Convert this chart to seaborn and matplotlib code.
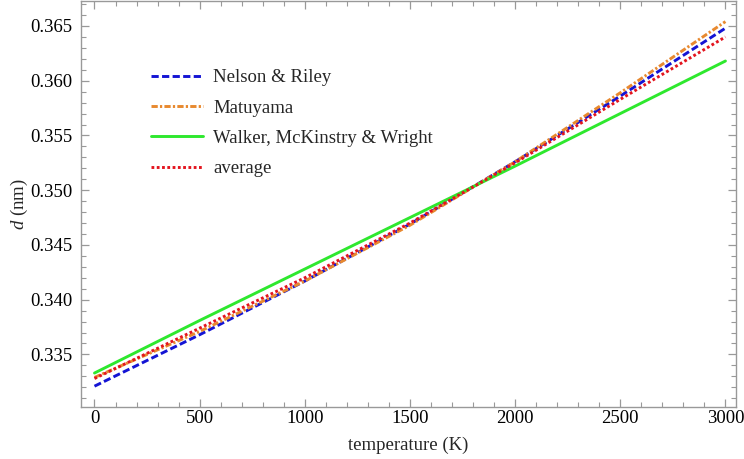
import numpy as np
import pandas as pd
import matplotlib
matplotlib.use('Agg')
import matplotlib.pyplot as plt
from matplotlib.ticker import MultipleLocator, FormatStrFormatter
import seaborn as sns

# temperature grid (K) and lattice spacing d (nm)
temperature = [0, 500, 1000, 1500, 2000, 2500, 3000]
nelson_riley = [0.3321, 0.3368, 0.3417, 0.3469, 0.3526, 0.3586, 0.3648]
matuyama = [0.3329, 0.3371, 0.3417, 0.3468, 0.3526, 0.3589, 0.3654]
walker = [0.3333, 0.3381, 0.3428, 0.3475, 0.3522, 0.3570, 0.3618]
average = [0.3328, 0.3374, 0.3420, 0.3470, 0.3525, 0.3583, 0.3640]

labels = ['Nelson & Riley', 'Matuyama', 'Walker, McKinstry & Wright', 'average']

sns.set_style('ticks')
plt.rcParams['font.family'] = ['Liberation Serif', 'DejaVu Serif']
plt.rcParams['mathtext.fontset'] = 'custom'
plt.rcParams['mathtext.it'] = 'Liberation Serif:italic'
plt.rcParams['mathtext.rm'] = 'Liberation Serif'
plt.rcParams['lines.scale_dashes'] = False

fig = plt.figure(figsize=(7.44, 4.59), dpi=100)
ax = fig.add_axes([0.1089, 0.1133, 0.8803, 0.8845])

styles = [
    (nelson_riley, '#1414d4', (0, (5.2, 2.4))),
    (matuyama, '#e8892f', (0, (4.5, 1.6, 1.6, 1.6))),
    (walker, '#2ee82e', '-'),
    (average, '#e3141e', (0, (2.0, 1.8))),
]
for (vals, col, ls), lab in zip(styles, labels):
    sns.lineplot(x=temperature, y=vals, color=col, linestyle=ls, lw=2.1,
                 label=lab, ax=ax)

ax.set_xlim(-64, 3050)
ax.set_ylim(0.3302, 0.36728)
ax.xaxis.set_major_locator(MultipleLocator(500))
ax.xaxis.set_minor_locator(MultipleLocator(100))
ax.yaxis.set_major_locator(MultipleLocator(0.005))
ax.yaxis.set_minor_locator(MultipleLocator(0.001))
ax.yaxis.set_major_formatter(FormatStrFormatter('%.3f'))

gray = '#999999'
for s in ax.spines.values():
    s.set_color(gray)
    s.set_linewidth(1.0)
ax.tick_params(which='both', direction='in', top=True, right=True, color=gray,
               labelsize=13.5, labelcolor='black')
ax.tick_params(which='major', length=6, width=0.9)
ax.tick_params(which='minor', length=3.5, width=0.8)
ax.tick_params(axis='y', which='major', pad=6)
ax.tick_params(axis='x', which='major', pad=2)

ax.set_xlabel('temperature (K)', fontsize=13.5, labelpad=7)
ax.set_ylabel(r'$d$ (nm)', fontsize=13.5, labelpad=0)

ax.legend(loc='upper left', bbox_to_anchor=(0.092, 0.855), frameon=False,
          fontsize=13.5, borderpad=0, handlelength=2.8, handletextpad=0.55,
          labelspacing=0.7)

fig.savefig('out.png', dpi=100)
